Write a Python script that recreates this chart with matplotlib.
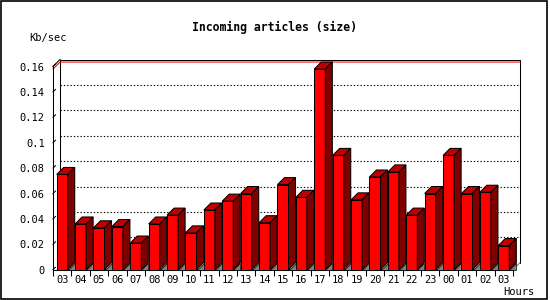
import numpy as np
import matplotlib
matplotlib.use("Agg")
import matplotlib.pyplot as plt
from matplotlib.patches import Rectangle

# Data
hours = ["03", "04", "05", "06", "07", "08", "09", "10", "11", "12", "13", "14", "15",
         "16", "17", "18", "19", "20", "21", "22", "23", "00", "01", "02", "03"]
kbsec = [0.075, 0.036, 0.033, 0.034, 0.021, 0.036, 0.043, 0.029, 0.047, 0.054, 0.060, 0.037, 0.067,
         0.057, 0.158, 0.090, 0.055, 0.073, 0.077, 0.043, 0.060, 0.090, 0.060, 0.061, 0.019]
yticks = [0, 0.02, 0.04, 0.06, 0.08, 0.1, 0.12, 0.14, 0.16]
ytick_labels = ["0", "0.02", "0.04", "0.06", "0.08", "0.1", "0.12", "0.14", "0.16"]

W, H = 550, 300
fig = plt.figure(figsize=(W / 100, H / 100), dpi=100)
fig.patch.set_facecolor("white")

# pixel geometry of the plot
x0_px, slot_px = 53, 18.4
y0_px, ymax_px = 269.7, 66.5
depth_px = 7
n = len(hours)
ymax = 0.16
dx = depth_px / slot_px
dy = depth_px * ymax / (y0_px - ymax_px)

left = x0_px / W
right = (x0_px + n * slot_px + depth_px) / W
bottom = (H - y0_px) / H
top = (H - ymax_px + depth_px) / H
ax = fig.add_axes([left, bottom, right - left, top - bottom])
ax.set_xlim(0, n + dx)
ax.set_ylim(0, ymax + dy)
for s in ax.spines.values():
    s.set_visible(False)

lw = 0.75
mono = "DejaVu Sans Mono"

# back wall grid
for t in yticks[1:-1]:
    ax.plot([dx, n + dx], [t + dy, t + dy], color="black", lw=0.8,
            linestyle=(0, (1.2, 1.8)), zorder=1, clip_on=False)
# back wall frame
ax.plot([dx, dx, n + dx, n + dx], [dy, ymax + dy, ymax + dy, dy], color="black", lw=lw,
        zorder=1, clip_on=False)
# max line
vmax = max(kbsec)
ax.plot([0, dx, n + dx], [vmax, vmax + dy, vmax + dy], color="red", lw=lw, zorder=2, clip_on=False)
# front axes
ax.plot([0, 0], [0, ymax], color="black", lw=lw, zorder=2, clip_on=False)
ax.plot([0, dx], [ymax, ymax + dy], color="black", lw=lw, zorder=2, clip_on=False)
ax.plot([0, n], [0, 0], color="black", lw=lw, zorder=2, clip_on=False)
ax.plot([n, n + dx], [0, dy], color="gray", lw=lw, zorder=2, clip_on=False)
# diagonal y tick marks
for t in yticks:
    ax.plot([0, dx * 0.35], [t, t + dy * 0.35], color="black", lw=lw, zorder=2, clip_on=False)

# bars
xs = np.arange(n)
bw = 0.6
ax.bar(xs + 0.2, kbsec, width=bw, align="edge", color="#ff0000", edgecolor="black",
       linewidth=lw, zorder=3, clip_on=False)
for x, v in zip(xs, kbsec):
    l, r = x + 0.2, x + 0.2 + bw
    ax.fill([l, l + dx, r + dx, r], [v, v + dy, v + dy, v], facecolor="#c00000",
            edgecolor="black", linewidth=lw, zorder=3, clip_on=False)
    ax.fill([r, r + dx, r + dx, r], [0, dy, v + dy, v], facecolor="#800000",
            edgecolor="black", linewidth=lw, zorder=3, clip_on=False)
    ax.fill([r, r + dx, r + dx], [0, 0, dy], facecolor="#808080",
            edgecolor="black", linewidth=0.5, zorder=3, clip_on=False)

# ticks and labels
ax.set_xticks(xs + 0.5)
ax.set_xticklabels(hours, fontfamily=mono, fontsize=7.5)
ax.set_xticks(np.arange(n + 1), minor=True)
ax.tick_params(axis="x", which="major", length=0, pad=4)
ax.tick_params(axis="x", which="minor", length=4, width=lw, direction="out")
ax.set_yticks(yticks)
ax.set_yticklabels(ytick_labels, fontfamily=mono, fontsize=7.5)
ax.tick_params(axis="y", length=0, pad=6)

fig.text(274.5 / W, 1 - 27 / H, "Incoming articles (size)", ha="center", va="center",
         fontfamily=mono, fontweight="bold", fontsize=8.3)
fig.text(47.5 / W, 1 - 38 / H, "Kb/sec", ha="center", va="center", fontfamily=mono, fontsize=7.5)
fig.text(519 / W, 1 - 292 / H, "Hours", ha="center", va="center", fontfamily=mono, fontsize=7.5)

# outer frame
fig.patches.append(Rectangle((0.5 / W, 1.5 / H), 546.5 / W, 298 / H, transform=fig.transFigure,
                             fill=False, edgecolor="black", linewidth=1.2))

fig.savefig("out.png", dpi=100)
